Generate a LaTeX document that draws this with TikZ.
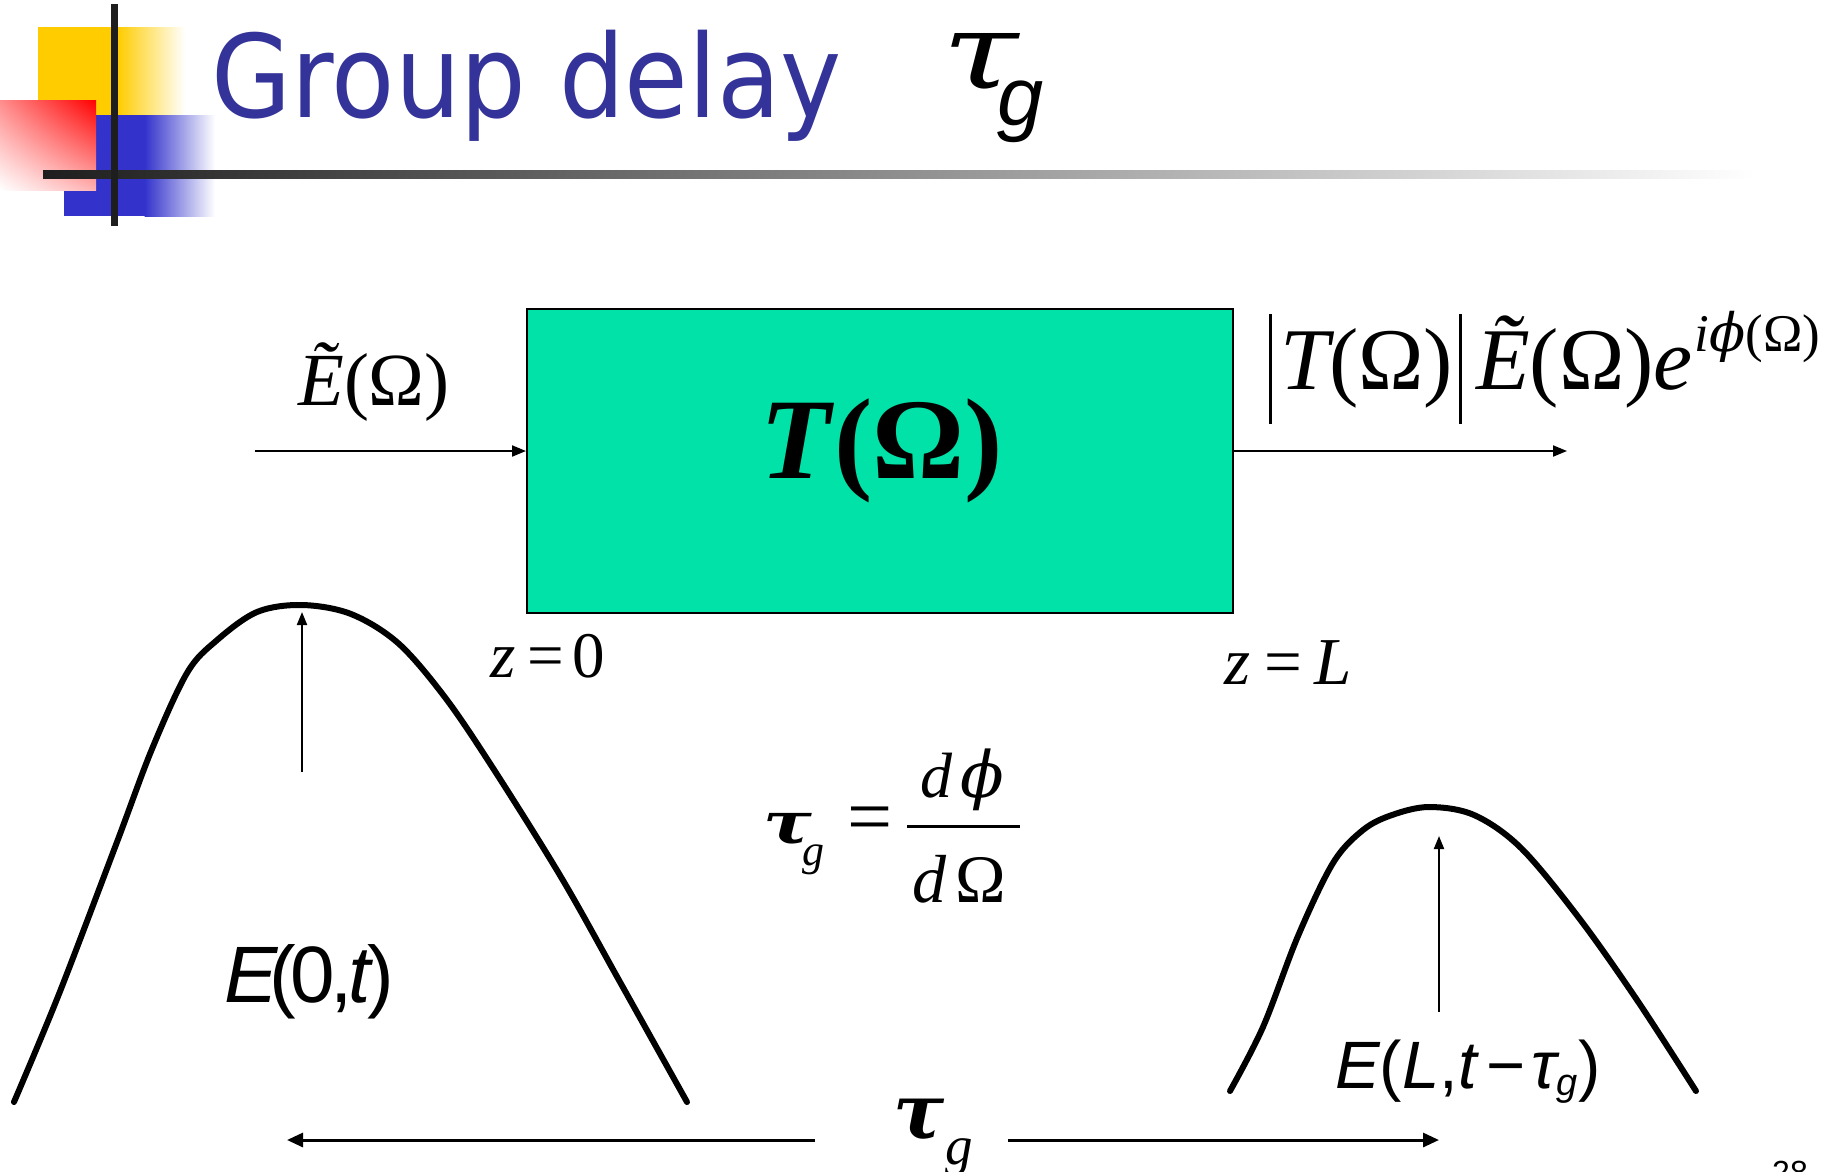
\documentclass[tikz,border=0pt]{standalone}
\usepackage{fontspec}
\usepackage{graphicx}
\setmainfont{Liberation Serif}
\setsansfont{Liberation Sans}
\newfontfamily\titlefont[FakeStretch=0.9]{DejaVu Sans}
\newfontfamily\phifont{DejaVu Serif}
\usetikzlibrary{arrows.meta,shadings}
\definecolor{titleblue}{RGB}{51,51,153}
\definecolor{boxgreen}{RGB}{0,226,168}
\definecolor{logoyellow}{RGB}{255,204,0}
\definecolor{logoblue}{RGB}{51,51,204}
\definecolor{logored}{RGB}{255,0,0}
\definecolor{logoblack}{RGB}{30,30,30}
\newcommand\setfs[1]{\fontsize{#1}{#1}\selectfont}
\newcommand\vbar{\rule[-35pt]{3pt}{110pt}}
\newcommand\myphi{{\phifont\itshape ϕ}}
\newcommand\mytau{\scalebox{1.3}[1]{\phifont\itshape τ}}
\newcommand\mytaub{\scalebox{1.25}[1]{\phifont\bfseries\itshape τ}}
\begin{document}
\begin{tikzpicture}[x=1pt,y=-1pt,
  lbl/.style={inner sep=0pt, anchor=base west},
  arr/.style={-{Triangle[length=14pt,width=11pt]}, line width=2pt},
  bigarr/.style={-{Triangle[length=16pt,width=14pt]}, line width=3pt},
  pulse/.style={line width=6pt, line join=round, line cap=round},
  upar/.style={-{Triangle[length=13pt,width=10pt]}, line width=2pt}]
\useasboundingbox (0,0) rectangle (1834,1171);
\clip (0,0) rectangle (1834,1171);
% logo
\fill[logoyellow] (38,27) rectangle (118,116);
\shade[left color=logoyellow, right color=white] (117.5,27) rectangle (185,116);
\fill[logoblue] (64,115) rectangle (145,216);
\shade[left color=logoblue, right color=white] (144.5,115) rectangle (215,216);
\shade[upper right=logored, upper left=logored!45, lower right=logored!30, lower left=white] (0,100) rectangle (96,190);
\shade[left color=logoblack, right color=white] (43,170) rectangle (1755,178);
\fill[logoblack] (111,4) rectangle (118,226);
% title
\node[lbl, text=titleblue, font=\titlefont\setfs{115}] (title) at (211,117) {Group delay};
\node[lbl, font=\setfs{106}] (titletau) at (942,88) {\mytau};
\node[lbl, font=\sffamily\itshape\setfs{83}] (titleg) at (997,125) {g};
% box
\node[draw, line width=2pt, fill=boxgreen, minimum width=706pt, minimum height=304pt, inner sep=0pt, anchor=north west] (box) at (526,308) {};
\node[lbl, font=\setfs{115}\bfseries] (boxlabel) at (760,478) {\itshape T\upshape\hspace{4pt}(Ω)};
% input / output
\coordinate (inStart) at (255,451);
\coordinate (outEnd) at (1567,451);
\draw[arr] (inStart) -- (inStart -| box.west);
\draw[arr] (outEnd -| box.east) -- (outEnd);
\node[lbl, font=\setfs{75}] (inlabel) at (298,405) {\itshape Ẽ\upshape(Ω)};
\node[lbl, font=\setfs{88}] (outlabel) at (1269,389) {\vbar\hspace{8pt}\itshape T\upshape(Ω)\hspace{6pt}\vbar\hspace{14pt}\itshape Ẽ\upshape(Ω)\itshape e\hspace{2pt}\raisebox{38pt}{\setfs{53}\itshape i\myphi\upshape(Ω)}};
% z labels
\node[lbl, font=\setfs{65}] (z0) at (490,677) {\itshape z\upshape\hspace{12pt}=\hspace{8pt}0};
\node[lbl, font=\setfs{67}] (zL) at (1224,684) {\itshape z\upshape\hspace{14pt}=\hspace{12pt}\itshape L};
% formula
\node[lbl, font=\setfs{58}] (taueq) at (763,843) {\mytaub};
\node[lbl, font=\setfs{44}\itshape] (gsub) at (802,865) {g};
\node[lbl, font=\setfs{80}] (eqsign) at (847,843) {=};
\node[lbl, font=\setfs{64}] (num) at (920,797) {\itshape d\hspace{8pt}\myphi};
\node[lbl, font=\setfs{68}] (den) at (912,902) {\itshape d\hspace{9pt}\upshape Ω};
\draw[line width=3pt] (907,826) -- (1020,826);
% left pulse
\draw[pulse] plot[smooth, tension=0.55] coordinates {(14,1102) (59,994) (117,842) (152,749) (187,673) (216,641) (257,612) (302,605) (351,614) (398,643) (444,696) (491,765) (561,877) (620,982) (687,1102)};
\coordinate (p1base) at (302,772);
\coordinate (p1peak) at (302,612);
\draw[upar] (p1base) -- (p1peak);
\node[lbl, font=\sffamily\setfs{80}] (e0) at (224,1002) {\itshape E\kern-8pt\upshape(\kern-6pt0\kern-4pt,\kern-4pt\itshape t\upshape\kern-4pt)};
% right pulse
\draw[pulse] plot[smooth, tension=0.55] coordinates {(1230,1091) (1263,1027) (1298,936) (1333,863) (1363,830) (1392,815) (1429,807) (1474,815) (1521,848) (1579,918) (1637,1000) (1696,1091)};
\coordinate (p2base) at (1439,1012);
\coordinate (p2peak) at (1439,836);
\draw[upar] (p2base) -- (p2peak);
\node[lbl, font=\sffamily\setfs{67}] (eL) at (1335,1088) {\itshape E\upshape(\itshape L\upshape,\itshape t\upshape\hspace{10pt}−\hspace{6pt}\itshape τ\raisebox{-7pt}{\setfs{38}g}\upshape)};
% bottom tau_g
\node[lbl, font=\setfs{76}\bfseries\itshape] (bottomtau) at (893,1138) {{\phifont τ}};
\node[lbl, font=\setfs{55}\itshape] (bottomg) at (945,1164) {g};
\coordinate (bl1) at (815,1140);
\coordinate (bl2) at (287,1140);
\coordinate (br1) at (1008,1140);
\coordinate (br2) at (1439,1140);
\draw[bigarr] (bl1) -- (bl2);
\draw[bigarr] (br1) -- (br2);
% page number
\node[lbl, font=\sffamily\setfs{32}] (pagenum) at (1772,1183) {28};
\end{tikzpicture}
\end{document}
